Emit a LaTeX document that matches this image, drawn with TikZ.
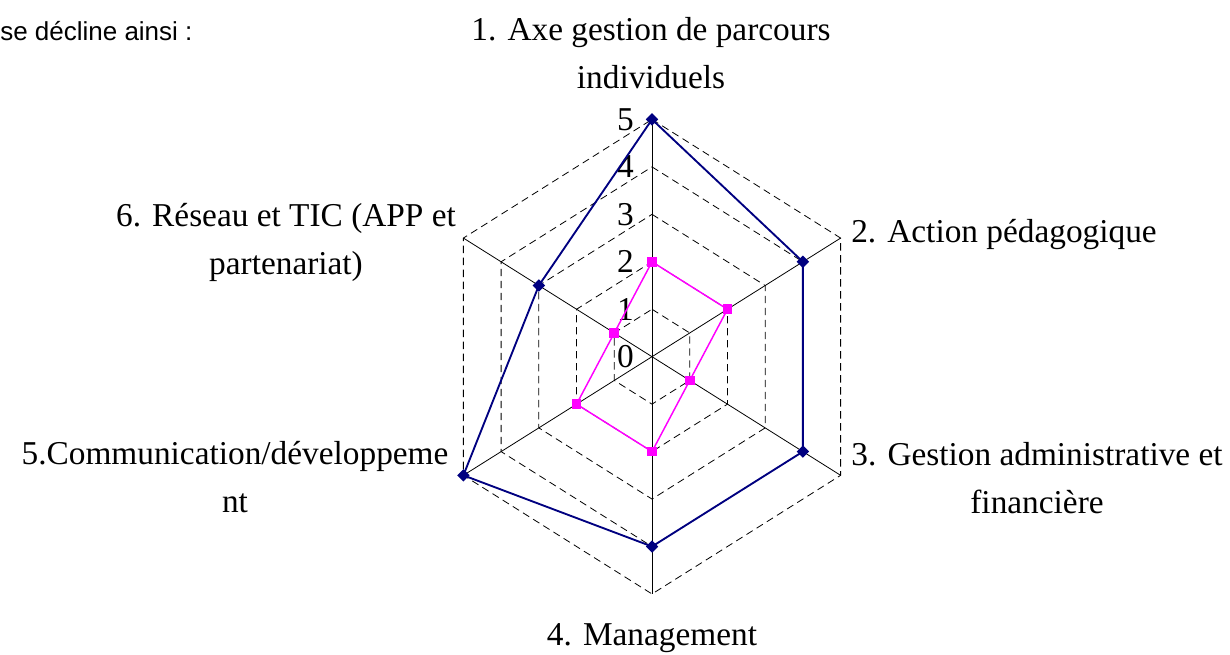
\documentclass[tikz,border=0pt]{standalone}
\usepackage{fontspec}
\setmainfont{Liberation Serif}
\newfontfamily\arialfont{Liberation Sans}
\usetikzlibrary{shapes.geometric}
\definecolor{serienavy}{RGB}{0,0,128}
\definecolor{seriemag}{RGB}{255,0,255}

\begin{document}
\begin{tikzpicture}[x=0.75pt,y=0.75pt,
    lbl/.style={font=\fontsize{25}{36}\selectfont, inner sep=0, align=center},
    tick/.style={font=\fontsize{25}{30}\selectfont, inner sep=0, anchor=east, xshift=-13.5pt},
    ring/.style={dash pattern=on 5.5pt off 3.5pt, line width=0.6pt},
    spoke/.style={line width=0.6pt},
    serA/.style={draw=serienavy, line width=1.4pt, line join=round},
    serB/.style={draw=seriemag, line width=1.1pt, line join=round},
    dotA/.style={diamond, fill=serienavy, inner sep=0, minimum width=9.5pt, minimum height=9.5pt},
    dotB/.style={rectangle, fill=seriemag, inner sep=0, minimum size=7.2pt}]
    \useasboundingbox (0,0) rectangle (1230,654);

    \node[font=\arialfont\fontsize{19.5}{22}\selectfont, anchor=base west, inner sep=0] (intro) at (0,613) {se décline ainsi :};

    \begin{scope}[shift={(652,297.3)}, x=32.67pt, y=35.59pt]
        \coordinate (o) at (0,0);
        \foreach \r in {1,...,5}
            \draw[ring] (90:\r) -- (30:\r) -- (-30:\r) -- (-90:\r) -- (-150:\r) -- (150:\r) -- cycle;
        \foreach \a [count=\i] in {90,30,-30,-90,-150,150}
            \coordinate (ax\i) at (\a:5);
        \foreach \i in {1,...,6}
            \draw[spoke] (o) -- (ax\i);
        \foreach \r in {0,...,5}
            \node[tick] (t\r) at (0,\r) {\r};

        \foreach \a/\v [count=\i] in {90/2,30/2,-30/1,-90/2,-150/2,150/1}
            \coordinate (m\i) at (\a:\v);
        \foreach \a/\v [count=\i] in {90/5,30/4,-30/4,-90/4,-150/5,150/3}
            \coordinate (b\i) at (\a:\v);

        \draw[serB] (m1) -- (m2) -- (m3) -- (m4) -- (m5) -- (m6) -- cycle;
        \draw[serA] (b1) -- (b2) -- (b3) -- (b4) -- (b5) -- (b6) -- cycle;
        \foreach \i in {1,...,6}{
            \node[dotB] (dm\i) at (m\i) {};
            \node[dotA] (db\i) at (b\i) {};
        }
    \end{scope}

    \path
    (651,565)node[lbl, anchor=base](l1){1. Axe gestion de parcours\\individuels}
    (851,411)node[lbl, anchor=base west](l2){2. Action pédagogique}
    (1037,141)node[lbl, anchor=base](l3){3. Gestion administrative et\\financière}
    (652,9)node[lbl, anchor=base](l4){4. Management}
    (235,142)node[lbl, anchor=base](l5){5.Communication/développeme\\nt}
    (286,379)node[lbl, anchor=base](l6){6. Réseau et TIC (APP et\\partenariat)}
    ;
\end{tikzpicture}
\end{document}
